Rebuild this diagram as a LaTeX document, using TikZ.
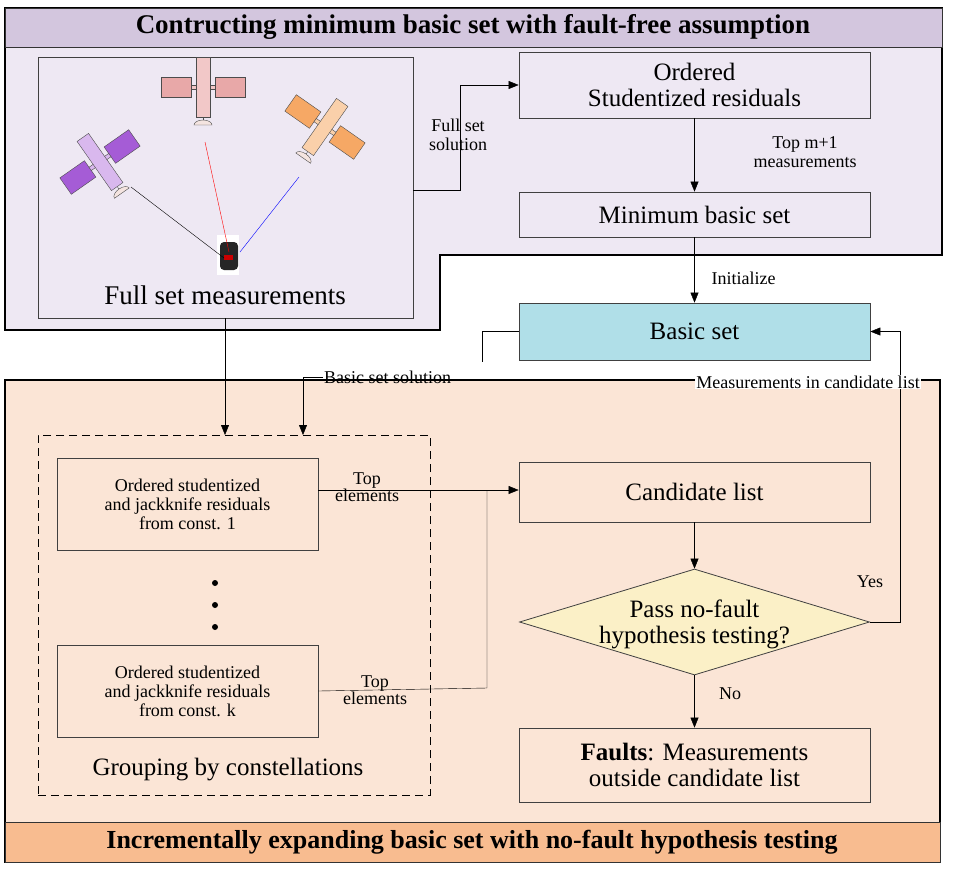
\documentclass[tikz,border=0pt]{standalone}
\usepackage{fontspec}
\setmainfont{Liberation Serif}
\usetikzlibrary{shapes.geometric,arrows.meta}
\definecolor{topbody}{HTML}{EEE8F3}
\definecolor{topband}{HTML}{D3C6DE}
\definecolor{botbody}{HTML}{FBE5D6}
\definecolor{botband}{HTML}{F8BC90}
\definecolor{bsfill}{HTML}{B0DFE8}
\definecolor{dfill}{HTML}{FBF0C7}
\definecolor{vpanel}{HTML}{A55CD6}
\definecolor{vbody}{HTML}{D9B8EE}
\definecolor{rpanel}{HTML}{E8A8A8}
\definecolor{rbody}{HTML}{F2C8C8}
\definecolor{opanel}{HTML}{F6A865}
\definecolor{obody}{HTML}{FAD0AA}
\definecolor{dishc}{HTML}{F4E4E0}
\tikzset{
  x=1pt,y=-1pt,
  box/.style={draw,thick,draw=black!75,fill=none,inner sep=0},
  arr/.style={draw=black,-{Triangle[length=10pt,width=8pt]}},
  ln/.style={draw=black},
  big/.style={font=\fontsize{25}{26}\selectfont,align=center},
  small/.style={font=\fontsize{18}{19}\selectfont,align=center},
}
\newcommand{\sat}[5]{% x y rot panelcolor bodycolor
 \begin{scope}[shift={(#1,#2)},rotate=#3]
  \draw[fill=#4,draw=black!70] (-42,-10) rectangle (-12,10);
  \draw[fill=#4,draw=black!70] (12,-10) rectangle (42,10);
  \draw[fill=#5,draw=black!70] (-12,-2) rectangle (12,2);
  \draw[fill=#5,draw=black!70] (-7,-30) rectangle (7,30);
  \draw[fill=dishc,draw=black!70] (-9,38) arc (180:360:9 and 5) -- cycle;
  \draw[black!70] (0,33)--(0,30);
 \end{scope}}
\begin{document}
\begin{tikzpicture}
\useasboundingbox (0,0) rectangle (966,868);
% top region
\filldraw[fill=topbody,draw=black,line width=1.2pt] (5,8) -- (942,8) -- (942,255) -- (440,255) -- (440,330) -- (5,330) -- cycle;
\filldraw[fill=topband,draw=black!80] (5,8) rectangle (942,47);
\node[font=\bfseries\fontsize{27}{29}\selectfont] (t1) at (473,27) {Contructing minimum basic set with fault-free assumption};
% bottom region
\filldraw[fill=botbody,draw=black,line width=1.2pt] (5,380) rectangle (940,862);
\filldraw[fill=botband,draw=black!80] (5,822) rectangle (940,862);
\node[font=\bfseries\fontsize{26}{28}\selectfont] (t2) at (472,842) {Incrementally expanding basic set with no-fault hypothesis testing};
% full set box
\node[box,minimum width=375,minimum height=261] (full) at (225.5,187.5) {};
\node[font=\fontsize{27}{29}\selectfont] (fulltxt) at (225,295) {Full set measurements};
% satellites
\sat{100}{162}{35}{vpanel}{vbody}
\sat{203}{87}{0}{rpanel}{rbody}
\sat{325}{127}{-35}{opanel}{obody}
\node[fill=white,minimum width=22,minimum height=40,inner sep=0] (rxbg) at (228,255) {};
\node[fill=black!85,rounded corners=4pt,minimum width=18,minimum height=28,inner sep=0] (rx) at (229,256) {};
\fill[red!80!black] (224,255) rectangle (233,260);
\draw[black] (131,187) -- (224,258);
\draw[red] (205,142) -- (229,252);
\draw[blue] (299,177) -- (240,252);
% right column
\node[box,minimum width=351,minimum height=66,big] (ord) at (694.5,85) {Ordered\\Studentized residuals};
\node[box,minimum width=351,minimum height=45,big] (minb) at (694.5,214.5) {Minimum basic set};
\node[box,fill=bsfill,minimum width=351,minimum height=57,big] (bs) at (694.5,331.5) {Basic set};
\node[box,minimum width=351,minimum height=60,big] (cand) at (694.5,492) {Candidate list};
\node[diamond,aspect=3.3,draw=black!75,thick,fill=dfill,minimum width=350,minimum height=106,inner sep=0] (dia) at (694.5,622) {};
\node[big] (diatxt) at (694.5,624) {Pass no-fault\\hypothesis testing?};
\node[box,minimum width=351,minimum height=74,big] (faults) at (694.5,765) {\textbf{Faults}: Measurements\\outside candidate list};
% left bottom
\node[draw=black,thick,dash pattern=on 8pt off 5pt,minimum width=392,minimum height=360,inner sep=0] (grp) at (234,615) {};
\node[box,minimum width=261,minimum height=92,small] (c1) at (187.5,504) {Ordered studentized\\and jackknife residuals\\from const. 1};
\node[box,minimum width=261,minimum height=92,small] (ck) at (187.5,691) {Ordered studentized\\and jackknife residuals\\from const. k};
\node[font=\fontsize{25}{27}\selectfont] (grptxt) at (228,770) {Grouping by constellations};
\fill (215,583) circle (3); \fill (215,605) circle (3); \fill (215,627) circle (3);
% connectors
\coordinate (fs1) at (460,190);
\draw[arr] (full.east |- fs1) -- (fs1) |- (ord.west);
\node[small] (fslab) at (458,135) {Full set\\solution};
\draw[arr] (ord.south) -- (minb.north);
\node[small] (toplab) at (805,152) {Top m+1\\measurements};
\draw[arr] (minb.south) -- (bs.north);
\node[small,anchor=west] (initlab) at (708,278) {Initialize};
\coordinate (g1) at (225,435);
\draw[arr] (full.south -| g1) -- (g1);
\draw[ln] (bs.west) -- (482,331.5) -- (482,362);
\node[small,anchor=west,inner sep=1pt] (bsslab) at (323,377) {Basic set solution};
\coordinate (g2) at (303,435);
\draw[arr] (bsslab.west) -- (303,377) -- (g2);
\coordinate (yes1) at (900,622);
\draw[arr] (dia.east) -- (yes1) |- (bs.east);
\node[small,fill=white,inner sep=1pt] (mlab) at (808,382) {Measurements in candidate list};
\node[small] (yeslab) at (870,582) {Yes};
\draw[arr] (cand.south) -- (dia.north);
\draw[arr] (dia.south) -- (faults.north);
\node[small] (nolab) at (730,694) {No};
\coordinate (j) at (487,490);
\draw[arr] (c1.east |- j) -- (cand.west |- j);
\draw[ln] (ck.east) -- (487,688) -- (j);
\node[small,font=\fontsize{18}{17}\selectfont] (tl1) at (367,487) {Top\\elements};
\node[small,font=\fontsize{18}{17}\selectfont] (tl2) at (375,690) {Top\\elements};
\end{tikzpicture}
\end{document}
